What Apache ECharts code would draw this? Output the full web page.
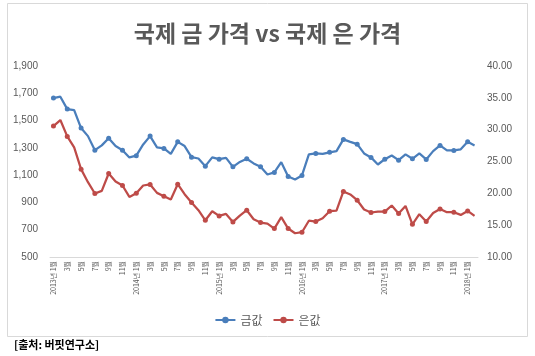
<!DOCTYPE html>
<html><head><meta charset="utf-8">
<script src="https://cdn.jsdelivr.net/npm/echarts@6/dist/echarts.min.js"></script>
<style>html,body{margin:0;padding:0;background:#fff}#c{width:535px;height:356px}</style>
</head><body><div id="c"></div>
<script>
var categories = [];
for (var y = 2013; y <= 2018; y++) {
  for (var m = 1; m <= 12; m++) {
    if (y === 2018 && m > 2) break;
    categories.push(m === 1 ? y + '년 1월' : m + '월');
  }
}
var goldPrice = [1665, 1675, 1584, 1577, 1445, 1386, 1283, 1318, 1371, 1313, 1283, 1230,
  1243, 1325, 1386, 1303, 1296, 1256, 1344, 1313, 1232, 1222, 1166, 1230,
  1217, 1227, 1161, 1197, 1220, 1186, 1161, 1105, 1120, 1195, 1090, 1068,
  1098, 1252, 1259, 1256, 1267, 1276, 1362, 1344, 1327, 1259, 1230, 1178,
  1217, 1244, 1210, 1252, 1220, 1259, 1215, 1276, 1318, 1281, 1281, 1289,
  1344, 1318];
var silverPrice = [30.56, 31.51, 28.94, 27.21, 23.80, 21.75, 19.97, 20.38, 23.12, 21.86, 21.23, 19.44,
  20.0, 21.23, 21.39, 20.07, 19.55, 19.03, 21.44, 19.86, 18.56, 17.35, 15.77, 17.19,
  16.45, 16.77, 15.51, 16.51, 17.35, 15.93, 15.41, 15.25, 14.47, 16.25, 14.47, 13.73,
  13.89, 15.7, 15.57, 16.09, 17.19, 17.30, 20.29, 19.82, 18.92, 17.46, 16.99, 17.14,
  17.14, 18.09, 16.83, 18.02, 15.14, 16.72, 15.57, 16.92, 17.55, 17.03, 17.03, 16.61,
  17.24, 16.45];
var seriesNames = ['금값', '은값'];
var titleText = '국제 금 가격 vs 국제 은 가격';
var sourceText = '[출처: 버핏연구소]';

var chart = echarts.init(document.getElementById('c'), null, {renderer: 'canvas'});
var gray = '#595959';
chart.setOption({
  animation: false,
  backgroundColor: '#fff',
  title: {
    text: titleText, left: 'center', top: 17,
    textStyle: {fontFamily: 'Noto Sans CJK KR', fontSize: 23, fontWeight: 'bold', color: gray}
  },
  legend: {
    data: seriesNames, bottom: 25, left: 'center', itemWidth: 20, itemHeight: 8, itemGap: 10,
    textStyle: {fontFamily: 'Noto Sans CJK KR', fontSize: 12, color: gray}
  },
  grid: {left: 50, right: 57, top: 66, bottom: 99},
  xAxis: {
    type: 'category', data: categories, boundaryGap: true,
    axisLine: {lineStyle: {color: '#d9d9d9'}},
    axisTick: {show: false},
    axisLabel: {interval: 1, rotate: 90, fontSize: 7, color: gray, margin: 4, fontFamily: 'Noto Sans CJK KR'}
  },
  yAxis: [
    {type: 'value', min: 500, max: 1900, interval: 200,
     splitLine: {show: false}, axisLine: {show: false}, axisTick: {show: false},
     axisLabel: {color: gray, fontSize: 10, margin: 12, fontFamily: 'Liberation Sans',
       formatter: function (v) { return v.toLocaleString('en-US'); }}},
    {type: 'value', min: 10, max: 40, interval: 5,
     splitLine: {show: false}, axisLine: {show: false}, axisTick: {show: false},
     axisLabel: {color: gray, fontSize: 10, margin: 9, fontFamily: 'Liberation Sans',
       formatter: function (v) { return v.toFixed(2); }}}
  ],
  series: [
    {name: seriesNames[0], type: 'line', yAxisIndex: 0, data: goldPrice,
     symbol: 'circle', symbolSize: 5, color: '#4a7ebb',
     lineStyle: {width: 2.25, color: '#4a7ebb'}, itemStyle: {color: '#4a7ebb'}},
    {name: seriesNames[1], type: 'line', yAxisIndex: 1, data: silverPrice,
     symbol: 'circle', symbolSize: 5, color: '#be4b48',
     lineStyle: {width: 2.25, color: '#be4b48'}, itemStyle: {color: '#be4b48'}}
  ],
  graphic: [
    {type: 'rect', shape: {x: 7.5, y: 3.5, width: 520, height: 333}, z: -1,
     style: {fill: 'none', stroke: '#d9d9d9', lineWidth: 1}},
    {type: 'text', left: 14, top: 339,
     style: {text: sourceText, font: 'bold 11px "Noto Sans CJK KR"', fill: '#000'}}
  ]
});
</script></body></html>
